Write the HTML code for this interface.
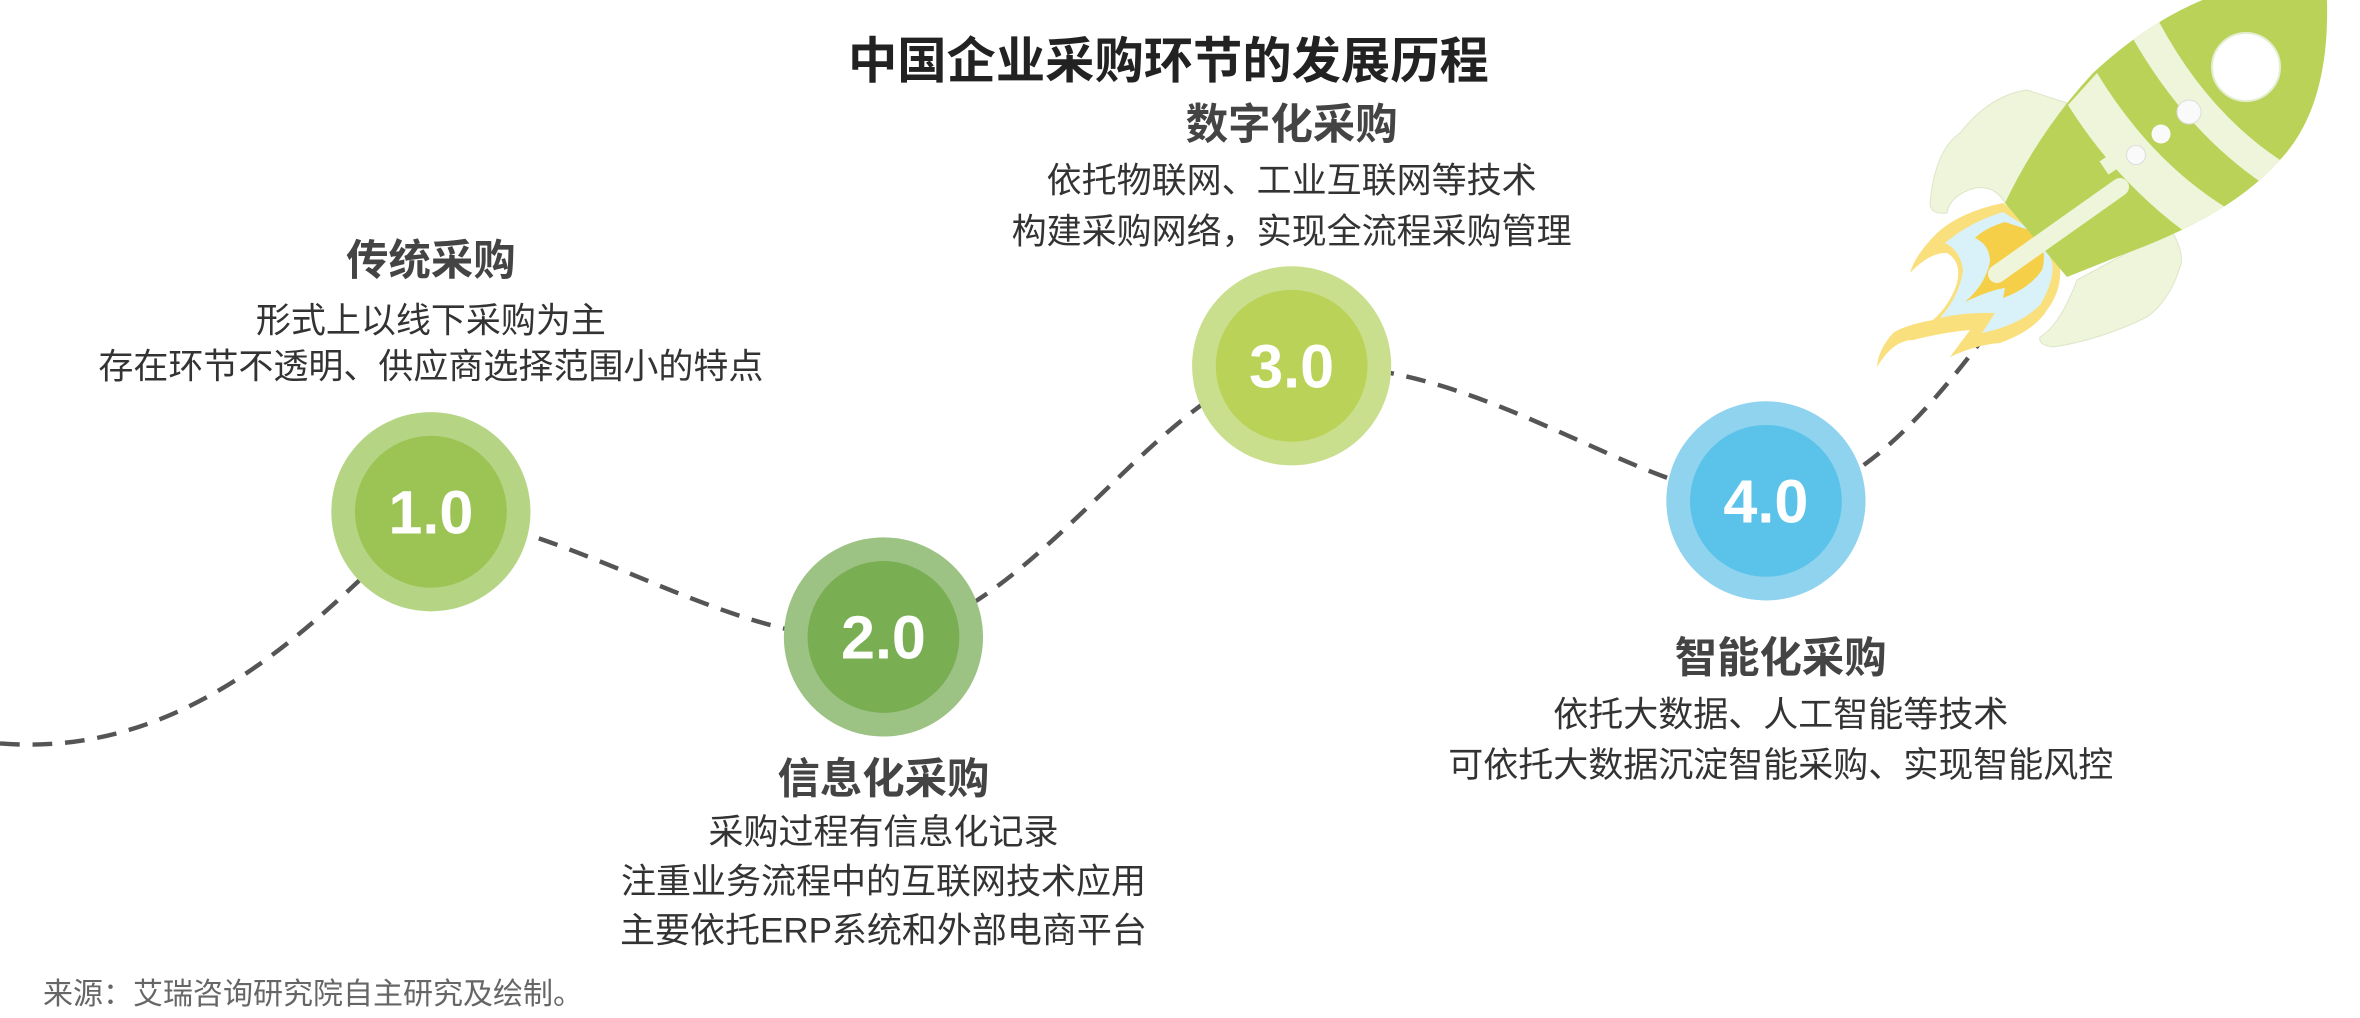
<!DOCTYPE html>
<html><head><meta charset="utf-8"><style>
html,body{margin:0;padding:0;background:#fff;}
svg{display:block;}
text{font-family:"Liberation Sans","Noto Sans CJK SC",sans-serif;}
</style></head><body>
<svg width="2360" height="1018" viewBox="0 0 2360 1018" xmlns="http://www.w3.org/2000/svg">
<defs>
<clipPath id="body"><path d="M2005,203 Q2040,130 2093,73 Q2150,20 2210,-3 L2327,0 Q2330,110 2277,163 Q2230,215 2127,253 L2067,277 Z"/></clipPath>
</defs>
<g transform="scale(0.986)">
<path d="M0,754 C200,770 330,620 437,519 C600,540 750,660 896,646 C1050,630 1180,380 1310,371 C1500,360 1650,500 1791,508 C1880,510 1960,410 2010,345" fill="none" stroke="#555" stroke-width="4.5" stroke-dasharray="20 13"/>
</g>

<path d="M1930,203 Q1935,150 1960,133 Q1990,95 2027,90 L2067,103 L2005,203 Q1995,185 1975,188 Q1950,195 1947,213 Q1930,215 1930,203 Z" fill="#eff5da" stroke="#dde6c8" stroke-width="1"/>
<path d="M2040,337 Q2060,325 2077,280 L2127,253 L2173,233 Q2185,255 2180,267 Q2170,300 2147,317 Q2100,340 2053,347 Q2038,345 2040,337 Z" fill="#eff5da" stroke="#dde6c8" stroke-width="1"/>
<path d="M2003,203 Q1960,212 1937,233 Q1915,255 1910,273 Q1930,252 1947,253 Q1962,262 1957,283 Q1950,305 1933,320 Q1905,325 1893,333 Q1878,350 1877,367 Q1893,340 1913,340 Q1945,332 1970,330 L1950,357 Q1975,345 2000,343 Q2035,330 2047,310 Q2062,290 2060,267 L2047,233 Z" fill="#f9e07c"/>
<path d="M2003,212 Q1970,222 1945,243 Q1960,250 1963,270 Q1960,295 1940,318 Q1965,312 1995,313 L1982,333 Q2020,325 2040,305 Q2055,280 2052,262 L2040,235 Z" fill="#d9f1f8"/>
<path d="M2005,222 Q1985,228 1975,238 Q1990,245 1990,262 Q1985,285 1965,302 Q1990,290 2005,288 L2003,298 Q2030,288 2042,270 Q2048,250 2035,232 Z" fill="#f5cf47"/>
<path d="M2005,203 Q2040,130 2093,73 Q2150,20 2210,-3 L2327,0 Q2330,110 2277,163 Q2230,215 2127,253 L2067,277 Z" fill="#b9d257"/>
<g clip-path="url(#body)" fill="#eff5da">
<path d="M2068,105 L2097,73 Q2150,160 2225,207 L2185,232 Q2115,180 2068,105 Z"/>
<path d="M2132,37 L2157,18 Q2205,110 2280,160 L2262,183 Q2185,130 2132,37 Z"/>
</g>
<path d="M1997,274 L2120,187" stroke="#eff5da" stroke-width="18" stroke-linecap="round"/>
<path d="M2104,168 L2128,152" stroke="#eff5da" stroke-width="16"/>
<circle cx="2246" cy="67" r="34" fill="#fff" stroke="#e4eed0" stroke-width="2"/>
<circle cx="2189" cy="112" r="12" fill="#fafafa" stroke="#ddd" stroke-width="1"/>
<circle cx="2161" cy="134" r="9.5" fill="#fafafa"/>
<circle cx="2136" cy="155" r="9.5" fill="#fafafa" stroke="#ddd" stroke-width="1"/>

<g transform="scale(0.986)">
<circle cx="437" cy="519" r="101" fill="#b5d585"/>
<circle cx="437" cy="519" r="77" fill="#9bc454"/>
<circle cx="896" cy="646" r="101" fill="#9dc384"/>
<circle cx="896" cy="646" r="77" fill="#79ae53"/>
<circle cx="1310" cy="371" r="101" fill="#cadf8e"/>
<circle cx="1310" cy="371" r="77" fill="#b9d257"/>
<circle cx="1791" cy="508" r="101" fill="#8fd3ef"/>
<circle cx="1791" cy="508" r="77" fill="#5bc3ea"/>
<g fill="#fff" font-weight="bold" font-size="62" text-anchor="middle">
<text x="437" y="541">1.0</text>
<text x="896" y="668">2.0</text>
<text x="1310" y="393">3.0</text>
<text x="1791" y="530">4.0</text>
</g>

<g text-anchor="middle" fill="#3a3a3a">
<text x="1185" y="79" font-size="50" font-weight="bold" fill="#222">中国企业采购环节的发展历程</text>
<g font-size="43" font-weight="bold" fill="#444">
<text x="437" y="279">传统采购</text>
<text x="1310" y="141">数字化采购</text>
<text x="896" y="805">信息化采购</text>
<text x="1806" y="682">智能化采购</text>
</g>
<g font-size="35.5" fill="#333">
<text x="437" y="337">形式上以线下采购为主</text>
<text x="437" y="384">存在环节不透明、供应商选择范围小的特点</text>
<text x="1310" y="195">依托物联网、工业互联网等技术</text>
<text x="1310" y="247">构建采购网络，实现全流程采购管理</text>
<text x="896" y="856">采购过程有信息化记录</text>
<text x="896" y="906">注重业务流程中的互联网技术应用</text>
<text x="896" y="956">主要依托ERP系统和外部电商平台</text>
<text x="1806" y="737">依托大数据、人工智能等技术</text>
<text x="1806" y="788">可依托大数据沉淀智能采购、实现智能风控</text>
</g>
</g>
</g>
<text x="43" y="1004" font-size="30" fill="#666">来源：艾瑞咨询研究院自主研究及绘制。</text>
</svg>
</body></html>
